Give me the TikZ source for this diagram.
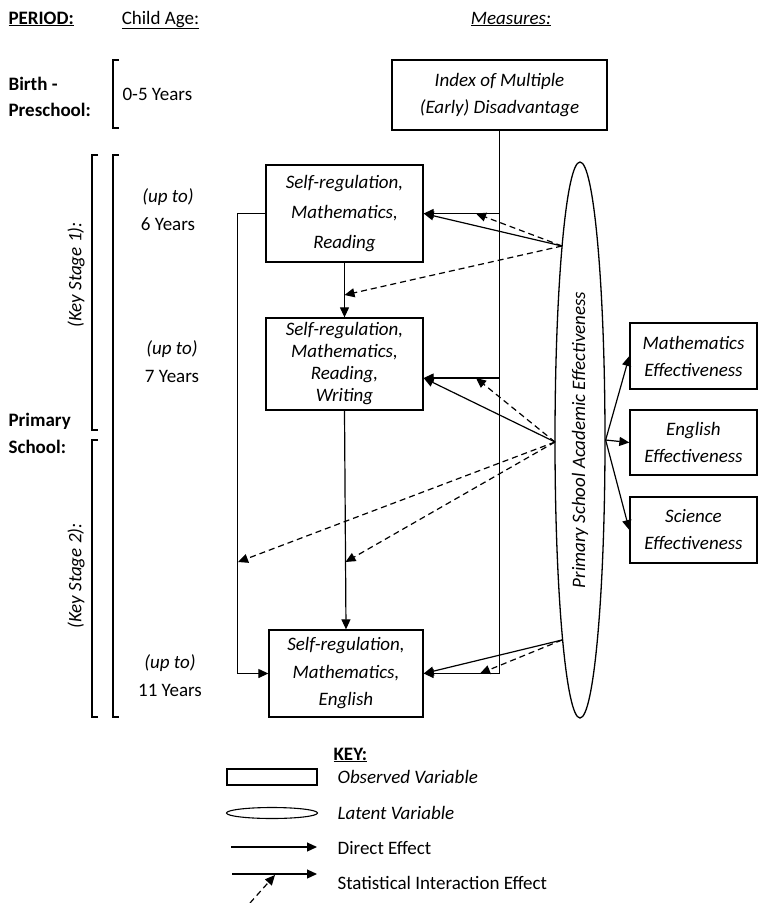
\documentclass[tikz,border=0pt]{standalone}
\usepackage{fontspec}
\setmainfont{Carlito}
\usetikzlibrary{arrows.meta,shapes.geometric,positioning,calc}

\begin{document}
\begin{tikzpicture}[x=1pt, y=-1pt, line width=1.2pt,
    every node/.style = {font=\fontsize{19}{28}\selectfont, inner sep=0pt, align=center},
    measure/.style = {draw, line width=1.3pt, font=\fontsize{19}{29}\selectfont\itshape},
    latent/.style = {draw, ellipse, line width=1.3pt, font=\fontsize{19}{28}\selectfont\itshape},
    effect/.style = {-{Triangle[length=10pt, width=9pt]}},
    interaction/.style = {effect, dash pattern=on 6pt off 4pt},
    bracket/.style = {line width=1.1pt}]
  \useasboundingbox (0,0) rectangle (758,903);

  % headings
  \node[anchor=base west, font=\fontsize{19}{28}\selectfont\bfseries] (period) at (8,24) {\underline{PERIOD:}};
  \node[anchor=base] (childage) at (160.5,24) {\underline{Child Age:}};
  \node[anchor=base, font=\fontsize{19}{28}\selectfont\itshape] (measures) at (511,24) {\underline{Measures:}};

  % periods and ages
  \node[anchor=west, align=left, font=\fontsize{19}{26}\selectfont\bfseries] (birth) at (8,97) {Birth -\\Preschool:};
  \node[anchor=west, align=left, font=\fontsize{19}{27}\selectfont\bfseries] (primary) at (8,433) {Primary\\School:};
  \node[rotate=90, font=\fontsize{19}{28}\selectfont\itshape] (stage1) at (76,275) {(Key Stage 1):};
  \node[rotate=90, font=\fontsize{19}{28}\selectfont\itshape] (stage2) at (76,576) {(Key Stage 2):};
  \foreach \x/\ya/\yb in {113/60/128, 113/155/717, 92/155/430, 92/440/717}
    \draw[bracket] (\x+6,\ya) -- (\x,\ya) -- (\x,\yb) -- (\x+6,\yb);
  \node[anchor=west] (age5) at (122,94) {0-5 Years};
  \node (upto6) at (168,210) {\textit{(up to)}\\6 Years};
  \node (upto7) at (172,362) {\textit{(up to)}\\7 Years};
  \node (upto11) at (170,676) {\textit{(up to)}\\11 Years};

  % measures
  \node[measure, minimum width=215pt, minimum height=70pt, font=\fontsize{19}{27}\selectfont\itshape] (imd) at (499.5,95) {Index of Multiple\\(Early) Disadvantage};
  \node[measure, minimum width=157pt, minimum height=97pt, font=\fontsize{19}{30}\selectfont\itshape] (age6) at (344.5,213.5) {Self-regulation,\\Mathematics,\\Reading};
  \node[measure, minimum width=157pt, minimum height=92pt, font=\fontsize{19}{22}\selectfont\itshape] (age7) at (344.5,364) {Self-regulation,\\Mathematics,\\Reading,\\Writing};
  \node[measure, minimum width=154pt, minimum height=87pt, font=\fontsize{19}{27.5}\selectfont\itshape] (age11) at (346,673.5) {Self-regulation,\\Mathematics,\\English};
  \node[latent, rotate=90, minimum width=556pt, minimum height=50pt] (acad) at (580,440) {Primary School Academic Effectiveness};
  \node[measure, minimum width=127pt, minimum height=66pt, font=\fontsize{19}{27}\selectfont\itshape] (maths) at (693.5,356) {Mathematics\\Effectiveness};
  \node[measure, minimum width=127pt, minimum height=65pt, font=\fontsize{19}{27}\selectfont\itshape] (english) at (693.5,442.5) {English\\Effectiveness};
  \node[measure, minimum width=127pt, minimum height=66pt, font=\fontsize{19}{27}\selectfont\itshape] (science) at (693.5,530) {Science\\Effectiveness};

  \coordinate (in7) at ([yshift=-14pt]age7.east);
  \coordinate (s6) at (562,246);
  \coordinate (s7) at (555,442);
  \coordinate (s11) at (562,640);
  \coordinate (m6) at (476,213.5);
  \coordinate (m7) at (476,378);
  \coordinate (m11) at (480,673.5);
  \coordinate (d6) at (344.5,295);
  \coordinate (d7a) at (238,562);
  \coordinate (d7b) at (345.5,562);

  % direct effects
  \draw[effect] (imd.south) |- (age11.east);
  \draw[effect] (imd.south |- age6.east) -- (age6.east);
  \draw[effect] (imd.south |- in7) -- (in7);
  \draw[effect] (age6.south) -- (age7.north);
  \draw[effect] (age7.south) -- (age11.north);
  \draw[effect] (age6.west) -- ++(-28,0) |- (age11.west);
  \draw[effect] (s6) -- (age6.east);
  \draw[effect] (s7) -- (in7);
  \draw[effect] (s11) -- (age11.east);
  \draw[effect] (acad.south) -- (maths.west);
  \draw[effect] (acad.south) -- (english.west);
  \draw[effect] (acad.south) -- (science.west);

  % interaction effects
  \draw[interaction] (s6) -- (m6);
  \draw[interaction] (s6) -- (d6);
  \draw[interaction] (s7) -- (m7);
  \draw[interaction] (s7) -- (d7a);
  \draw[interaction] (s7) -- (d7b);
  \draw[interaction] (s11) -- (m11);

  % key
  \node[anchor=base west, font=\fontsize{19}{28}\selectfont\bfseries] (key) at (333,760) {\underline{KEY:}};
  \node[draw, line width=1.1pt, minimum width=90pt, minimum height=16pt] (keybox) at (272,777) {};
  \node[anchor=west, font=\fontsize{19}{28}\selectfont\itshape] (keyobs) at (337,777) {Observed Variable};
  \node[draw, ellipse, line width=1.1pt, minimum width=91pt, minimum height=11pt] (keyell) at (272,813) {};
  \node[anchor=west, font=\fontsize{19}{28}\selectfont\itshape] (keylat) at (337,813) {Latent Variable};
  \coordinate (kd1) at (231,847);
  \coordinate (kd2) at (317,847);
  \draw[effect] (kd1) -- (kd2);
  \node[anchor=west] (keydir) at (337,848) {Direct Effect};
  \coordinate (ki1) at (232,874);
  \coordinate (ki2) at (317,874);
  \coordinate (ki3) at (250,903);
  \coordinate (ki4) at (275,875);
  \draw[effect] (ki1) -- (ki2);
  \draw[interaction] (ki3) -- (ki4);
  \node[anchor=west] (keyint) at (337,883) {Statistical Interaction Effect};
\end{tikzpicture}
\end{document}
